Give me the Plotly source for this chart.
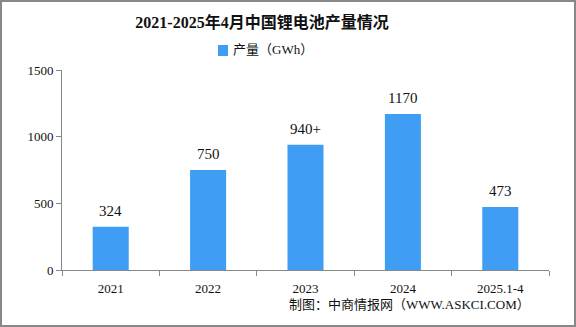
import plotly.graph_objects as go

categories = ["2021", "2022", "2023", "2024", "2025.1-4"]
values = [324, 750, 940, 1170, 473]
labels = ["324", "750", "940+", "1170", "473"]
y_ticks = [0, 500, 1000, 1500]
series_name = "产量（GWh）"

W, H = 576, 327
L, R, T, B = 62, 27, 70, 57
pw = W - L - R
ph = H - T - B

serif = "SimSun, 'Liberation Serif', 'Noto Sans CJK SC', serif"
bar_color = "#3f9df3"

def px_x(x):
    return (x - L) / pw

def px_y(y):
    return (T + ph - y) / ph

fig = go.Figure()
fig.add_trace(go.Bar(
    x=categories, y=values,
    marker=dict(color=bar_color, line=dict(width=0)),
    name=series_name, showlegend=False,
))

for i, (v, t) in enumerate(zip(values, labels)):
    fig.add_annotation(x=i, y=v, text=t, showarrow=False, yshift=16, yanchor="middle",
                       font=dict(size=15, color="#111111", family=serif))

fig.update_layout(
    width=W, height=H,
    margin=dict(l=L, r=R, t=T, b=B),
    paper_bgcolor="white", plot_bgcolor="white",
    bargap=0.63,
    title=dict(text="<b>2021-2025年4月中国锂电池产量情况</b>", xref="paper", x=px_x(262), xanchor="center",
               y=1 - 22 / H, yanchor="middle",
               font=dict(size=16, color="#111111", family=serif)),
    xaxis=dict(type="category", showline=True, linecolor="#888888", linewidth=1, ticks="outside",
               tickson="boundaries", ticklen=5, tickcolor="#888888", ticklabelstandoff=6,
               tickfont=dict(size=13, color="#111111", family=serif), showgrid=False),
    yaxis=dict(range=[0, 1500], tickvals=y_ticks, showline=True, linecolor="#888888",
               linewidth=1, ticks="outside", ticklen=5, tickcolor="#888888",
               tickfont=dict(size=13, color="#111111", family=serif), showgrid=False,
               zeroline=False),
    font=dict(family=serif),
)

# legend (manual)
fig.add_shape(type="rect", xref="paper", yref="paper",
              x0=px_x(218), x1=px_x(228), y0=px_y(56), y1=px_y(45),
              fillcolor=bar_color, line=dict(width=0))
fig.add_annotation(text=series_name, xref="paper", yref="paper", x=px_x(231), y=px_y(50),
                   xanchor="left", yanchor="middle", showarrow=False,
                   font=dict(size=13, color="#111111", family=serif))

fig.add_annotation(text="制图：中商情报网（WWW.ASKCI.COM）", xref="paper", yref="paper",
                   x=px_x(532), y=px_y(304), xanchor="right", yanchor="middle",
                   showarrow=False, font=dict(size=13, color="#111111", family=serif))

# outer border
fig.add_shape(type="rect", xref="paper", yref="paper",
              x0=px_x(1), x1=px_x(W - 1), y0=px_y(H - 1), y1=px_y(1),
              line=dict(color="#888888", width=2), layer="below")

fig.write_html("out.html")
